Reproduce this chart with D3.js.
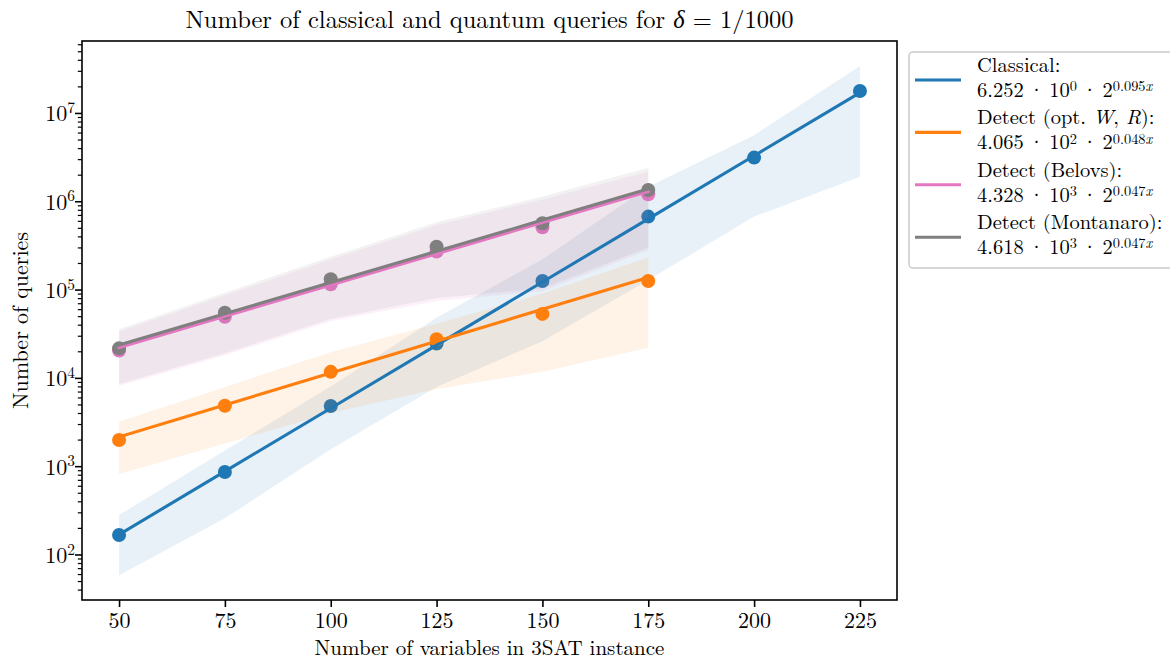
<!DOCTYPE html>
<html>
<head>
<meta charset="utf-8">
<script src="https://cdn.jsdelivr.net/npm/d3@7"></script>
<style>
body { margin: 0; background: #fff; }
text { font-family: "Latin Modern Roman", "CMU Serif", "Liberation Serif", serif; fill: #000; }
</style>
</head>
<body>
<svg id="chart" width="1170" height="661"></svg>
<script>
// values
const xVals = [50, 75, 100, 125, 150, 175, 200, 225];

const classicalPts = [166, 860, 4800, 24500, 125000, 670000, 3120000, 17700000];
const classicalFit = [168, 873, 4527, 23480, 121800, 632000, 3278000, 17000000];
const classicalLo = [58, 257, 1550, 7900, 26000, 128000, 670000, 1900000];
const classicalHi = [280, 1500, 8000, 48000, 220000, 1460000, 5600000, 34000000];

const optPts = [1980, 4840, 11700, 27400, 53000, 125000];
const optFit = [2146, 4930, 11330, 26020, 59770, 137300];
const optLo = [815, 1800, 4000, 7500, 11700, 22000];
const optHi = [3190, 7900, 19500, 41000, 90000, 230000];

const belovsPts = [20400, 49300, 115000, 269000, 507000, 1200000];
const belovsFit = [22070, 49820, 112500, 254000, 573500, 1295000];
const belovsLo = [8100, 18000, 43700, 74000, 96000, 280000];
const belovsHi = [33400, 86000, 219000, 540000, 1050000, 2160000];

const montPts = [21600, 54700, 131000, 306000, 563000, 1340000];
const montFit = [23540, 53160, 120000, 271000, 611900, 1382000];
const montLo = [8500, 19000, 46500, 80000, 103000, 300000];
const montHi = [35500, 92000, 235000, 580000, 1130000, 2400000];

const seriesNames = ["Classical:", "Detect (opt. W, R):", "Detect (Belovs):", "Detect (Montanaro):"];
const fitCoef = ["6.252", "4.065", "4.328", "4.618"];
const fitPow10 = ["0", "2", "3", "3"];
const fitRate = ["0.095", "0.048", "0.047", "0.047"];
const colors = ["#1f77b4", "#ff7f0e", "#e377c2", "#7f7f7f"];

const yMajor = [1e2, 1e3, 1e4, 1e5, 1e6, 1e7];

function makeSeries(pts, fit, lo, hi) {
  return xVals.slice(0, pts.length).map((x, i) => ({x: x, pt: pts[i], fit: fit[i], lo: lo[i], hi: hi[i]}));
}
const series = [
  makeSeries(classicalPts, classicalFit, classicalLo, classicalHi),
  makeSeries(optPts, optFit, optLo, optHi),
  makeSeries(belovsPts, belovsFit, belovsLo, belovsHi),
  makeSeries(montPts, montFit, montLo, montHi)
];

// plot box
const box = {left: 82, right: 897, top: 41, bottom: 600};
const svg = d3.select("#chart");

const x = d3.scaleLinear().domain([41.25, 233.75]).range([box.left, box.right]);
const y = d3.scaleLog().domain([30.5, 6.53e7]).range([box.bottom, box.top]);

// runs of text with superscripts / italics
function addRuns(textSel, runs, size, rise) {
  let shift = 0;
  runs.forEach(r => {
    const target = r.sup ? -size * (rise || 0.38) : 0;
    const ts = textSel.append("tspan")
      .attr("dy", target - shift)
      .style("font-size", (r.sup ? size * 0.7 : size) + "px")
      .text(r.t);
    if (r.it) ts.style("font-style", "italic");
    shift = target;
  });
}

const plot = svg.append("g");

// bands and dots, series by series
series.forEach((s, i) => {
  plot.append("path")
    .datum(s)
    .attr("d", d3.area().x(d => x(d.x)).y0(d => y(d.lo)).y1(d => y(d.hi)))
    .attr("fill", colors[i])
    .attr("fill-opacity", 0.1);
  plot.selectAll(".dot" + i)
    .data(s)
    .enter()
    .append("circle")
    .attr("class", "dot" + i)
    .attr("cx", d => x(d.x))
    .attr("cy", d => y(d.pt))
    .attr("r", 7)
    .attr("fill", colors[i]);
});

// fit lines on top
series.forEach((s, i) => {
  plot.append("path")
    .datum(s)
    .attr("d", d3.line().x(d => x(d.x)).y(d => y(d.fit)))
    .attr("fill", "none")
    .attr("stroke", colors[i])
    .attr("stroke-width", 3.1)
    .attr("stroke-linecap", "square");
});

// axes
const xAxis = svg.append("g")
  .attr("transform", "translate(0," + box.bottom + ")")
  .call(d3.axisBottom(x).tickValues(xVals).tickSize(7).tickPadding(5));
xAxis.select(".domain").remove();
xAxis.selectAll(".tick line").attr("stroke-width", 1.6);
xAxis.selectAll(".tick text")
  .style("font-size", "22px")
  .style("font-family", "'Latin Modern Roman','CMU Serif','Liberation Serif',serif");

const yMinor = [];
for (let e = 1; e <= 7; e++) {
  for (let m = 2; m <= 9; m++) {
    const v = m * Math.pow(10, e);
    if (v >= 30.5 && v <= 6.53e7) yMinor.push(v);
  }
}
const yMinorAxis = svg.append("g")
  .attr("transform", "translate(" + box.left + ",0)")
  .call(d3.axisLeft(y).tickValues(yMinor).tickSize(4.2).tickFormat(""));
yMinorAxis.select(".domain").remove();
yMinorAxis.selectAll(".tick line").attr("stroke-width", 1.2);

const yAxis = svg.append("g")
  .attr("transform", "translate(" + box.left + ",0)")
  .call(d3.axisLeft(y).tickValues(yMajor).tickSize(7).tickFormat(""));
yAxis.select(".domain").remove();
yAxis.selectAll(".tick line").attr("stroke-width", 1.6);

yMajor.forEach(v => {
  const t = svg.append("text")
    .attr("x", 75)
    .attr("y", y(v) + 8.5)
    .attr("text-anchor", "end");
  addRuns(t, [{t: "10"}, {t: String(Math.round(Math.log10(v))), sup: true}], 22);
});

svg.append("rect")
  .attr("x", box.left).attr("y", box.top)
  .attr("width", box.right - box.left).attr("height", box.bottom - box.top)
  .attr("fill", "none").attr("stroke", "#000").attr("stroke-width", 1.6);

// labels
svg.append("text")
  .attr("x", (box.left + box.right) / 2).attr("y", 655)
  .attr("text-anchor", "middle").style("font-size", "21px")
  .text("Number of variables in 3SAT instance");

svg.append("text")
  .attr("transform", "translate(28," + (box.top + box.bottom) / 2 + ") rotate(-90)")
  .attr("text-anchor", "middle").style("font-size", "22px")
  .text("Number of queries");

const title = svg.append("text")
  .attr("x", (box.left + box.right) / 2).attr("y", 28)
  .attr("text-anchor", "middle");
addRuns(title, [
  {t: "Number of classical and quantum queries for "},
  {t: "δ", it: true},
  {t: " = 1/1000"}
], 24.5);

// legend
const legend = svg.append("g");
legend.append("rect")
  .attr("x", 909).attr("y", 52).attr("width", 300).attr("height", 216)
  .attr("rx", 4)
  .attr("fill", "#fff").attr("fill-opacity", 0.8)
  .attr("stroke", "#cccccc").attr("stroke-width", 1.6);

seriesNames.forEach((name, i) => {
  const h = 80 + i * 52.4;
  legend.append("line")
    .attr("x1", 915).attr("x2", 961).attr("y1", h).attr("y2", h)
    .attr("stroke", colors[i]).attr("stroke-width", 3.1);
  const t1 = legend.append("text").attr("x", 977).attr("y", h - 8);
  if (name.indexOf("W, R") >= 0) {
    addRuns(t1, [{t: "Detect (opt. "}, {t: "W", it: true}, {t: ", "}, {t: "R", it: true}, {t: "):"}], 20.5);
  } else {
    addRuns(t1, [{t: name}], 20.5);
  }
  const t2 = legend.append("text").attr("x", 977).attr("y", h + 17)
    .style("word-spacing", "-2px");
  addRuns(t2, [
    {t: fitCoef[i] + " · 10"},
    {t: fitPow10[i], sup: true},
    {t: " · 2"},
    {t: fitRate[i], sup: true},
    {t: "x", sup: true, it: true}
  ], 20.5, 0.28);
});
</script>
</body>
</html>
